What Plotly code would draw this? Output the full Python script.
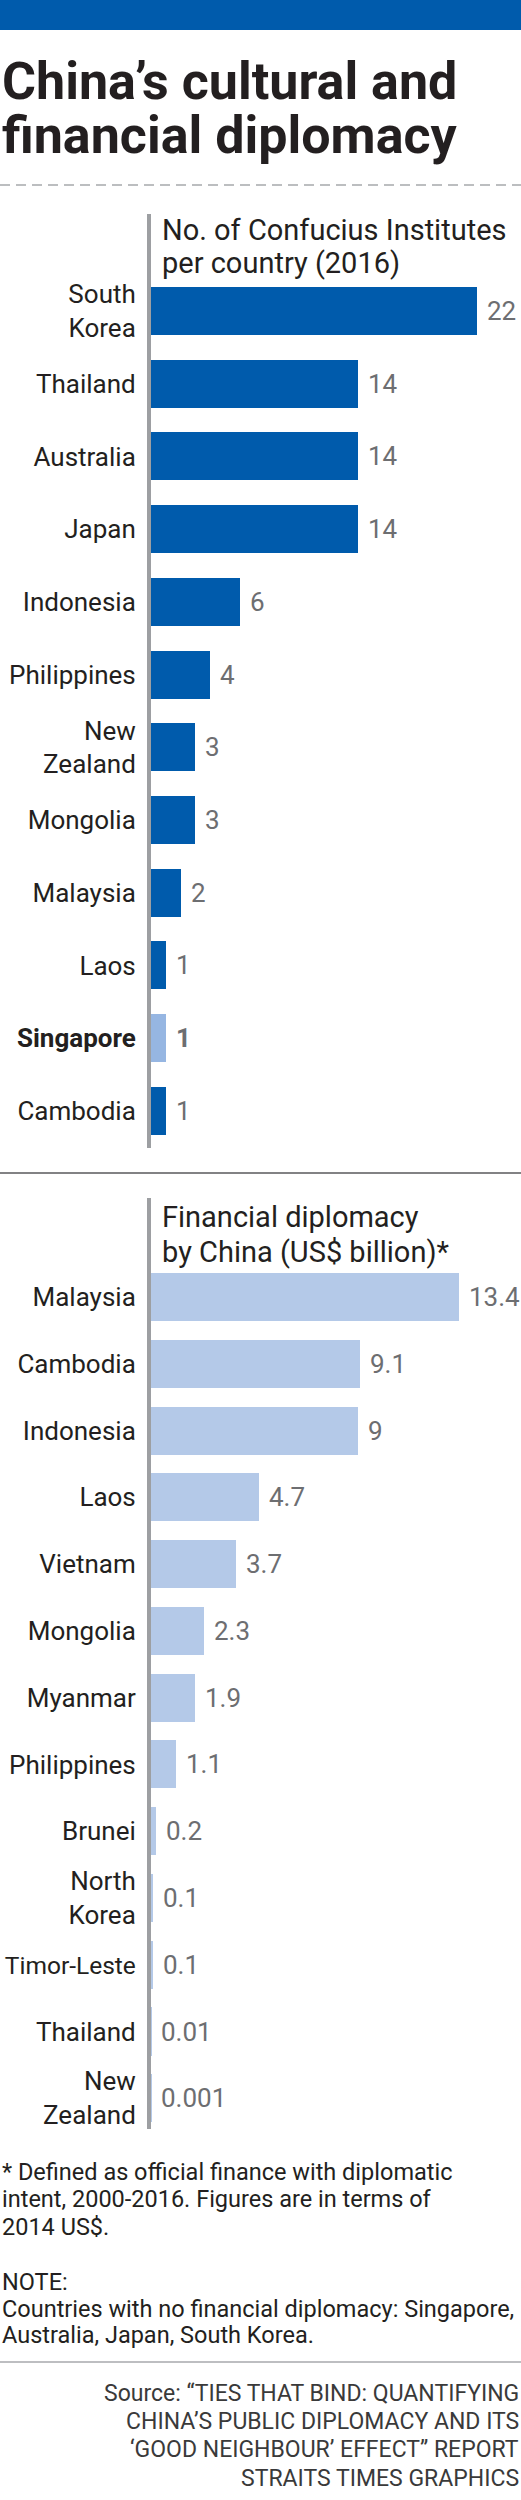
import plotly.graph_objects as go

W, H = 521, 2500

# ---------------- data ----------------
ci_countries = ["South Korea", "Thailand", "Australia", "Japan", "Indonesia", "Philippines",
                "New Zealand", "Mongolia", "Malaysia", "Laos", "Singapore", "Cambodia"]
ci_values = [22, 14, 14, 14, 6, 4, 3, 3, 2, 1, 1, 1]
ci_highlight = "Singapore"

fin_countries = ["Malaysia", "Cambodia", "Indonesia", "Laos", "Vietnam", "Mongolia", "Myanmar",
                 "Philippines", "Brunei", "North Korea", "Timor-Leste", "Thailand", "New Zealand"]
fin_values = [13.4, 9.1, 9, 4.7, 3.7, 2.3, 1.9, 1.1, 0.2, 0.1, 0.1, 0.01, 0.001]

title_lines = ["China’s cultural and", "financial diplomacy"]
ci_subtitle = ["No. of Confucius Institutes", "per country (2016)"]
fin_subtitle = ["Financial diplomacy", "by China (US$ billion)*"]
footnote_lines = ["* Defined as official finance with diplomatic",
                  "intent, 2000-2016. Figures are in terms of",
                  "2014 US$."]
note_lines = ["NOTE:",
              "Countries with no financial diplomacy: Singapore,",
              "Australia, Japan, South Korea."]
source_lines = ["Source: “TIES THAT BIND: QUANTIFYING",
                "CHINA’S PUBLIC DIPLOMACY AND ITS",
                "‘GOOD NEIGHBOUR’ EFFECT” REPORT",
                "STRAITS TIMES GRAPHICS"]

# ---------------- style ----------------
DARK = "#005BAC"
LIGHT = "#B4C9E8"
HILITE = "#96B6E2"
AXIS = "#9D9FA2"
TXT = "#231F20"
VAL = "#6D6E71"
SANS = "Roboto, sans-serif"


def py(px):
    return 1 - px / H


def px_x(px):
    return px / W


def tick_text(name, bold=False):
    if name in ("South Korea", "New Zealand", "North Korea"):
        t = name.replace(" ", "<br>")
    elif "-" in name:
        t = f'<span style="font-size:24.5px">{name}</span>'
    else:
        t = name
    return f"<b>{t}</b>" if bold else t


fig = go.Figure()

ci_colors = [HILITE if c == ci_highlight else DARK for c in ci_countries]
fig.add_trace(go.Bar(orientation="h", x=ci_values, y=ci_countries, xaxis="x", yaxis="y",
                     marker=dict(color=ci_colors, line=dict(width=0)), width=0.66,
                     hoverinfo="skip", showlegend=False))
fig.add_trace(go.Bar(orientation="h", x=fin_values, y=fin_countries, xaxis="x2", yaxis="y2",
                     marker=dict(color=LIGHT, line=dict(width=0)), width=0.72,
                     hoverinfo="skip", showlegend=False))

annotations = []
for c, v in zip(ci_countries, ci_values):
    b = c == ci_highlight
    annotations.append(dict(x=v, y=c, xref="x", yref="y", xanchor="left", yanchor="middle",
                            xshift=8, showarrow=False,
                            text=f"<b>{v:g}</b>" if b else f"{v:g}",
                            font=dict(family=SANS, size=26, color=VAL)))
for c, v in zip(fin_countries, fin_values):
    annotations.append(dict(x=v, y=c, xref="x2", yref="y2", xanchor="left", yanchor="middle",
                            xshift=8, showarrow=False, text=f"{v:g}",
                            font=dict(family=SANS, size=26, color=VAL)))


def text_line(txt, x, baseline, size, color, anchor="left", bold=False):
    annotations.append(dict(x=x, y=py(baseline - 0.35 * size), xref="paper", yref="paper",
                            xanchor=anchor, yanchor="middle", showarrow=False,
                            text=f"<b>{txt}</b>" if bold else txt,
                            font=dict(family=SANS, size=size, color=color)))


for t, b in zip(title_lines, [100, 154]):
    text_line(t, 0, b, 52, TXT, bold=True)
for t, b in zip(ci_subtitle, [240, 273]):
    text_line(t, px_x(160), b, 29, TXT)
for t, b in zip(fin_subtitle, [1227, 1262]):
    text_line(t, px_x(160), b, 29, TXT)
for t, b in zip(footnote_lines, [2180, 2207, 2235]):
    text_line(t, 0, b, 23.5, TXT)
for t, b in zip(note_lines, [2290, 2317, 2343]):
    text_line(t, 0, b, 23.5, TXT)
for t, b in zip(source_lines, [2402, 2430, 2458, 2487]):
    text_line(t, 1, b, 23, "#3A3A3A", anchor="right")

shapes = [
    dict(type="rect", xref="paper", yref="paper", x0=0, x1=1, y0=py(30), y1=1,
         fillcolor=DARK, line=dict(width=0)),
    dict(type="line", xref="paper", yref="paper", x0=0, x1=1, y0=py(185), y1=py(185),
         line=dict(color="#A7A9AC", width=1.5, dash="10px,6px")),
    dict(type="line", xref="paper", yref="paper", x0=0, x1=1, y0=py(1173), y1=py(1173),
         line=dict(color="#58595B", width=1.5)),
    dict(type="line", xref="paper", yref="paper", x0=0, x1=1, y0=py(2362), y1=py(2362),
         line=dict(color="#A7A9AC", width=1.5)),
]

x_dom = [px_x(151), 1]
yaxis_common = dict(type="category", showline=True, linecolor=AXIS, linewidth=4,
                    ticks="", showgrid=False, zeroline=False, fixedrange=True,
                    automargin=False,
                    tickfont=dict(family=SANS, size=26, color=TXT), ticklabelstandoff=6)

fig.update_layout(
    width=W, height=H, margin=dict(l=0, r=0, t=0, b=0, autoexpand=False),
    paper_bgcolor="white", plot_bgcolor="white",
    bargap=0,
    xaxis=dict(domain=x_dom, range=[0, 25], visible=False, fixedrange=True, anchor="y",
               automargin=False),
    yaxis=dict(domain=[py(1148), py(214)], anchor="x", range=[11.51, -1.334],
               categoryorder="array", categoryarray=ci_countries,
               tickvals=ci_countries,
               ticktext=[tick_text(c, c == ci_highlight) for c in ci_countries],
               **yaxis_common),
    xaxis2=dict(domain=x_dom, range=[0, 16.09], visible=False, fixedrange=True, anchor="y2",
                automargin=False),
    yaxis2=dict(domain=[py(2129), py(1198)], anchor="x2", range=[12.46, -1.483],
                categoryorder="array", categoryarray=fin_countries,
                tickvals=fin_countries,
                ticktext=[tick_text(c) for c in fin_countries],
                **yaxis_common),
    annotations=annotations,
    shapes=shapes,
)

fig.write_html("out.html", config={"displayModeBar": False},
               post_script="document.body.style.margin='0px';")
